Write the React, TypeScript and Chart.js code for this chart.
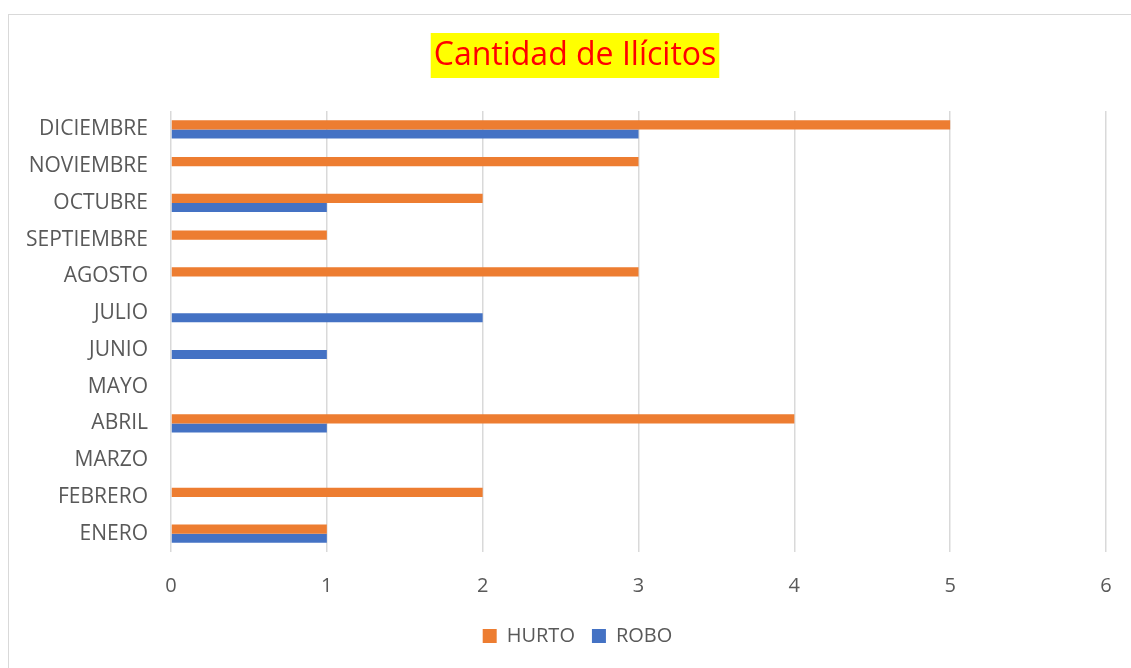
import React, { useEffect, useRef } from "react";
import { Chart, registerables } from "chart.js";

Chart.register(...registerables);

const months = [
  "ENERO", "FEBRERO", "MARZO", "ABRIL", "MAYO", "JUNIO",
  "JULIO", "AGOSTO", "SEPTIEMBRE", "OCTUBRE", "NOVIEMBRE", "DICIEMBRE",
];
const hurto = [1, 2, 0, 4, 0, 0, 0, 3, 1, 2, 3, 5];
const robo = [1, 0, 0, 1, 0, 1, 2, 0, 0, 1, 0, 3];
const xTicks = [0, 1, 2, 3, 4, 5, 6];
const titleText = "Cantidad de Ilícitos";

const FONT = "'Open Sans', 'Noto Sans', sans-serif";
const W = 1155;
const H = 668;

const titlePlugin = {
  id: "hlTitle",
  beforeDraw(chart: any) {
    const ctx = chart.ctx;
    ctx.save();
    ctx.font = `32px ${FONT}`;
    const tw = ctx.measureText(titleText).width;
    const cx = 575;
    const cy = 56;
    ctx.fillStyle = "#FFFF00";
    ctx.fillRect(cx - tw / 2 - 3, 33, tw + 6, 45);
    ctx.fillStyle = "#FF0000";
    ctx.textAlign = "center";
    ctx.textBaseline = "middle";
    ctx.fillText(titleText, cx, cy);
    ctx.restore();
  },
};

export default function App() {
  const ref = useRef<HTMLCanvasElement>(null);
  useEffect(() => {
    if (!ref.current) return;
    const chart = new Chart(ref.current, {
      type: "bar",
      data: {
        labels: months,
        datasets: [
          { label: "HURTO", data: hurto, backgroundColor: "#ED7D31", borderWidth: 0 },
          { label: "ROBO", data: robo, backgroundColor: "#4472C4", borderWidth: 0 },
        ],
      },
      plugins: [titlePlugin],
      options: {
        indexAxis: "y",
        responsive: false,
        animation: false,
        devicePixelRatio: 1,
        categoryPercentage: 0.5,
        barPercentage: 1.0,
        layout: { padding: { top: 111, left: 0, right: 0, bottom: 12 } },
        plugins: {
          title: { display: false },
          tooltip: { enabled: false },
          legend: {
            position: "bottom",
            labels: {
              boxWidth: 14,
              boxHeight: 14,
              padding: 17,
              color: "#595959",
              font: { family: FONT, size: 20 },
            },
          },
        },
        scales: {
          x: {
            min: 0,
            max: 6,
            afterBuildTicks(scale: any) {
              scale.ticks = xTicks.map((v) => ({ value: v }));
            },
            afterFit(scale: any) {
              const lh = scale.chart.legend ? scale.chart.legend.height : 0;
              scale.height = H - 12 - lh - 552;
            },
            grid: { color: "#D9D9D9", lineWidth: 1.5, drawTicks: false },
            border: { display: false },
            ticks: { color: "#595959", padding: 22, font: { family: FONT, size: 20 } },
          },
          y: {
            reverse: true,
            afterFit(scale: any) {
              scale.width = 171;
            },
            grid: { display: false, drawTicks: false },
            border: { display: false },
            ticks: { color: "#595959", padding: 23, font: { family: FONT, size: 21 } },
          },
          yRight: {
            type: "category",
            position: "right",
            display: true,
            afterFit(scale: any) {
              scale.width = W - 1106;
            },
            grid: { display: false, drawTicks: false },
            border: { display: false },
            ticks: { display: false },
          },
        },
      },
    });
    return () => chart.destroy();
  }, []);

  return (
    <div style={{ position: "fixed", left: 0, top: 0, width: 1131, height: 668, overflow: "hidden", background: "#fff" }}>
      <div style={{ position: "absolute", left: 8, top: 14, width: 1200, height: 700, border: "1px solid #D9D9D9", boxSizing: "border-box" }} />
      <canvas ref={ref} width={W} height={H} style={{ position: "absolute", left: 0, top: 0, width: W, height: H }} />
    </div>
  );
}
